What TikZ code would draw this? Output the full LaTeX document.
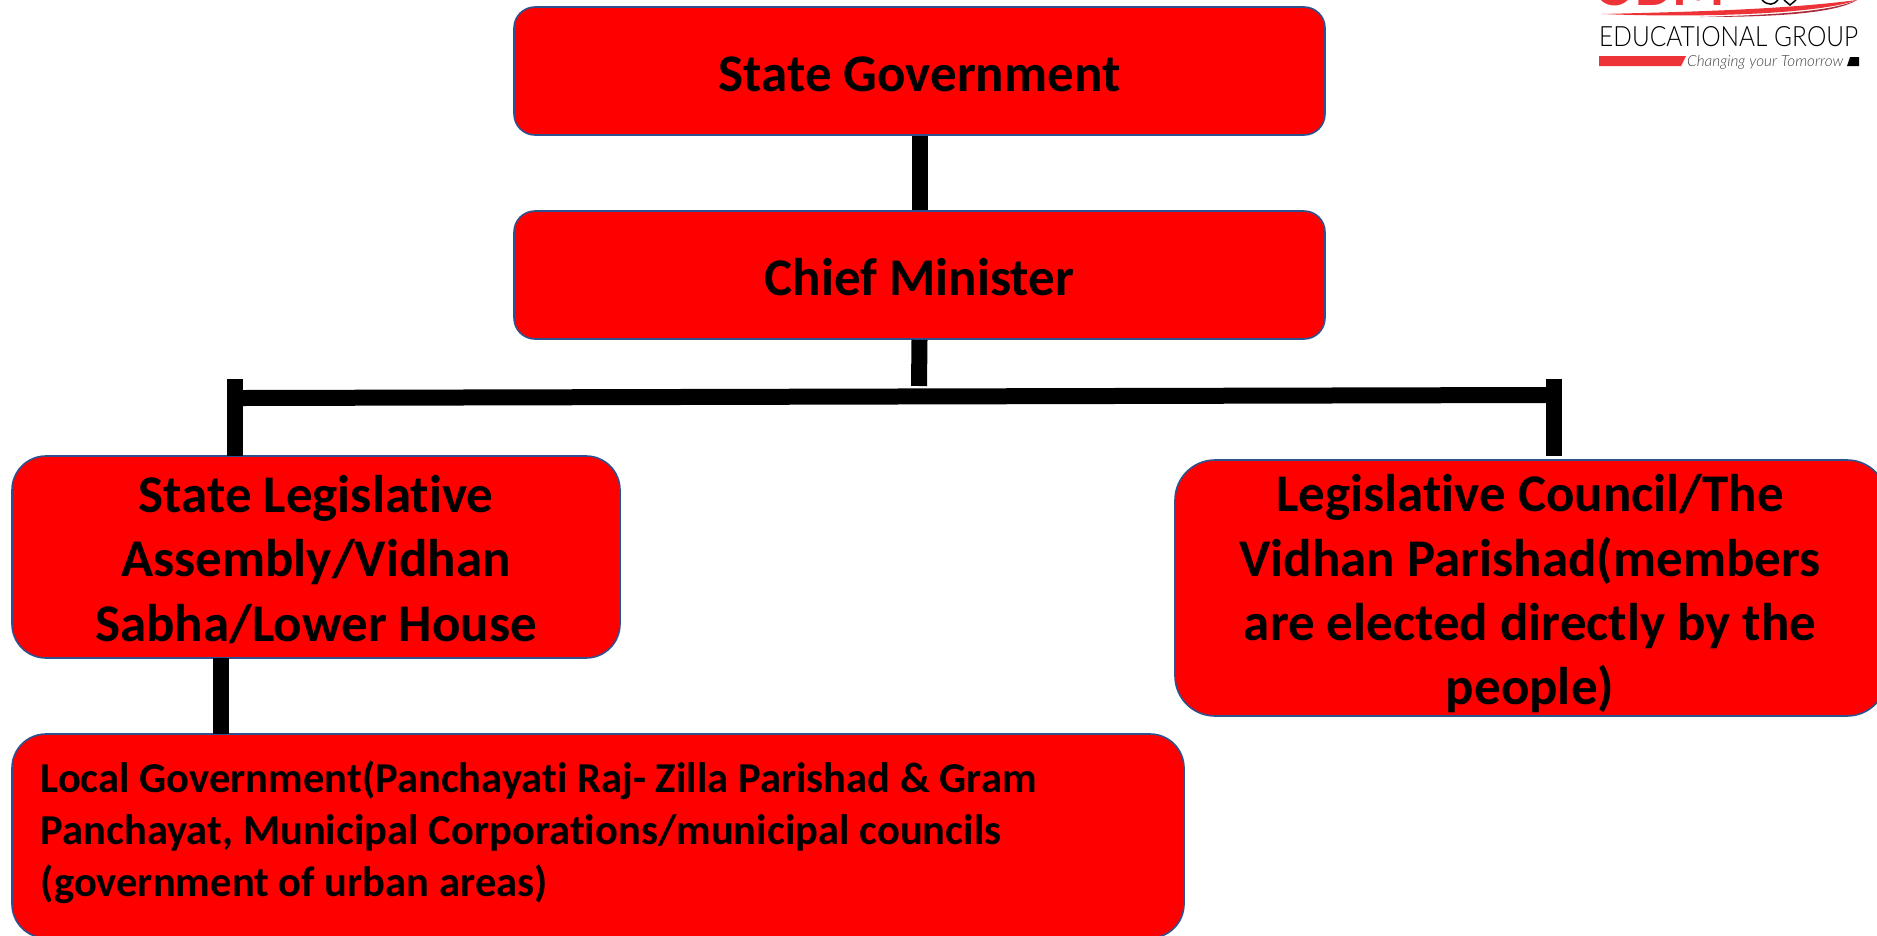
\documentclass[tikz,border=0pt]{standalone}
\usepackage{fontspec}
\usepackage{graphicx}
\setmainfont[Ligatures=NoCommon]{Carlito}
\newfontfamily\logofont[UprightFont={* Light},ItalicFont={* Light Italic}]{Lato}
\usepackage{tikz}
\definecolor{boxred}{RGB}{255,0,0}
\definecolor{boxline}{RGB}{47,82,143}
\definecolor{logored}{RGB}{238,51,56}
\definecolor{logodark}{RGB}{170,45,60}
\tikzset{
	box/.style={draw=boxline, line width=1.6pt, fill=boxred},
	boxtext/.style={font=\bfseries\fontsize{53}{64.3}\selectfont, inner sep=0pt, align=center},
	bar/.style={draw=black, line width=16pt},
}
\begin{document}
\begin{tikzpicture}[x=1pt, y=-1pt]
	\useasboundingbox (0,0) rectangle (1877,935);
	% logo
	\node (odm) [anchor=base, text=logored, font=\bfseries\fontsize{60}{60}\selectfont, inner sep=0pt] at (1660,5) {ODM};
	\fill[logored] (1602,14) .. controls (1680,12) and (1780,10) .. (1857,0) .. controls (1820,14) and (1700,18) .. (1602,14) -- cycle;
	\fill[logodark] (1857,0) .. controls (1830,12) and (1770,15) .. (1700,17) .. controls (1770,17) and (1835,14) .. (1857,0) -- cycle;
	\draw[black, line width=1.5pt] (1762,0) .. controls (1768,6) and (1774,5) .. (1778,0) (1784,0) -- (1790,5) -- (1796,0);
	\node (edu) [anchor=south west, inner sep=0pt] at (1599,47) {\resizebox{259pt}{20pt}{\logofont EDUCATIONAL GROUP}};
	\fill[logored] (1599,56) -- (1686,56) -- (1681,66) -- (1599,66) -- cycle;
	\node (slogan) [anchor=base west, inner sep=0pt, text=black!75, font=\logofont\itshape\fontsize{15.3}{15.3}\selectfont] at (1687,66) {Changing your Tomorrow};
	\fill[black] (1850,57) -- (1859,57) -- (1859,66) -- (1847,66) -- cycle;
	% connectors
	\coordinate (chiefend) at (919,386);
	\coordinate (barL) at (243,398);
	\coordinate (barR) at (1546,395);
	\coordinate (tickL) at (235,379);
	\coordinate (tickLend) at (235,456);
	\coordinate (tickR) at (1554,379);
	\coordinate (tickRend) at (1554,456);
	\coordinate (localtop) at (221,734);
	\coordinate (assemblyend) at (221,658);
	% boxes
	\node (state) [box, rounded corners=21pt, minimum width=811pt, minimum height=128pt] at (919.5,71) {};
	\node (statetext) [boxtext] at (919.5,74) {State Government};
	\node (chief) [box, rounded corners=21pt, minimum width=811pt, minimum height=128pt] at (919.5,275) {};
	\node (chieftext) [boxtext] at (919.5,277) {Chief Minister};
	\node (assembly) [box, rounded corners=34pt, minimum width=608pt, minimum height=202pt] at (316,557) {};
	\node (assemblytext) [boxtext] at (316,559.5) {State Legislative\\Assembly/Vidhan\\Sabha/Lower House};
	\node (council) [box, rounded corners=40pt, minimum width=712pt, minimum height=256pt] at (1531,588) {};
	\node (counciltext) [boxtext] at (1530,594) {Legislative Council/The\\Vidhan Parishad(members\\are elected directly by the\\people)};
	\node (local) [box, rounded corners=34pt, minimum width=1172pt, minimum height=204pt] at (598,836) {};
	\node (localtext) [anchor=west, inner sep=0pt, align=left, font=\bfseries\fontsize{42.6}{52}\selectfont] at (40.5,832) {Local Government(Panchayati Raj- Zilla Parishad \& Gram\\Panchayat, Municipal Corporations/municipal councils\\(government of urban areas)};
	\draw[bar] (state.south) -- (chief.north);
	\draw[bar] (chief.south) -- (chiefend);
	\draw[bar] (barL) -- (barR);
	\draw[bar] (tickL) -- (tickLend);
	\draw[bar] (tickR) -- (tickRend);
	\draw[bar] (assemblyend) -- (localtop);
\end{tikzpicture}
\end{document}
